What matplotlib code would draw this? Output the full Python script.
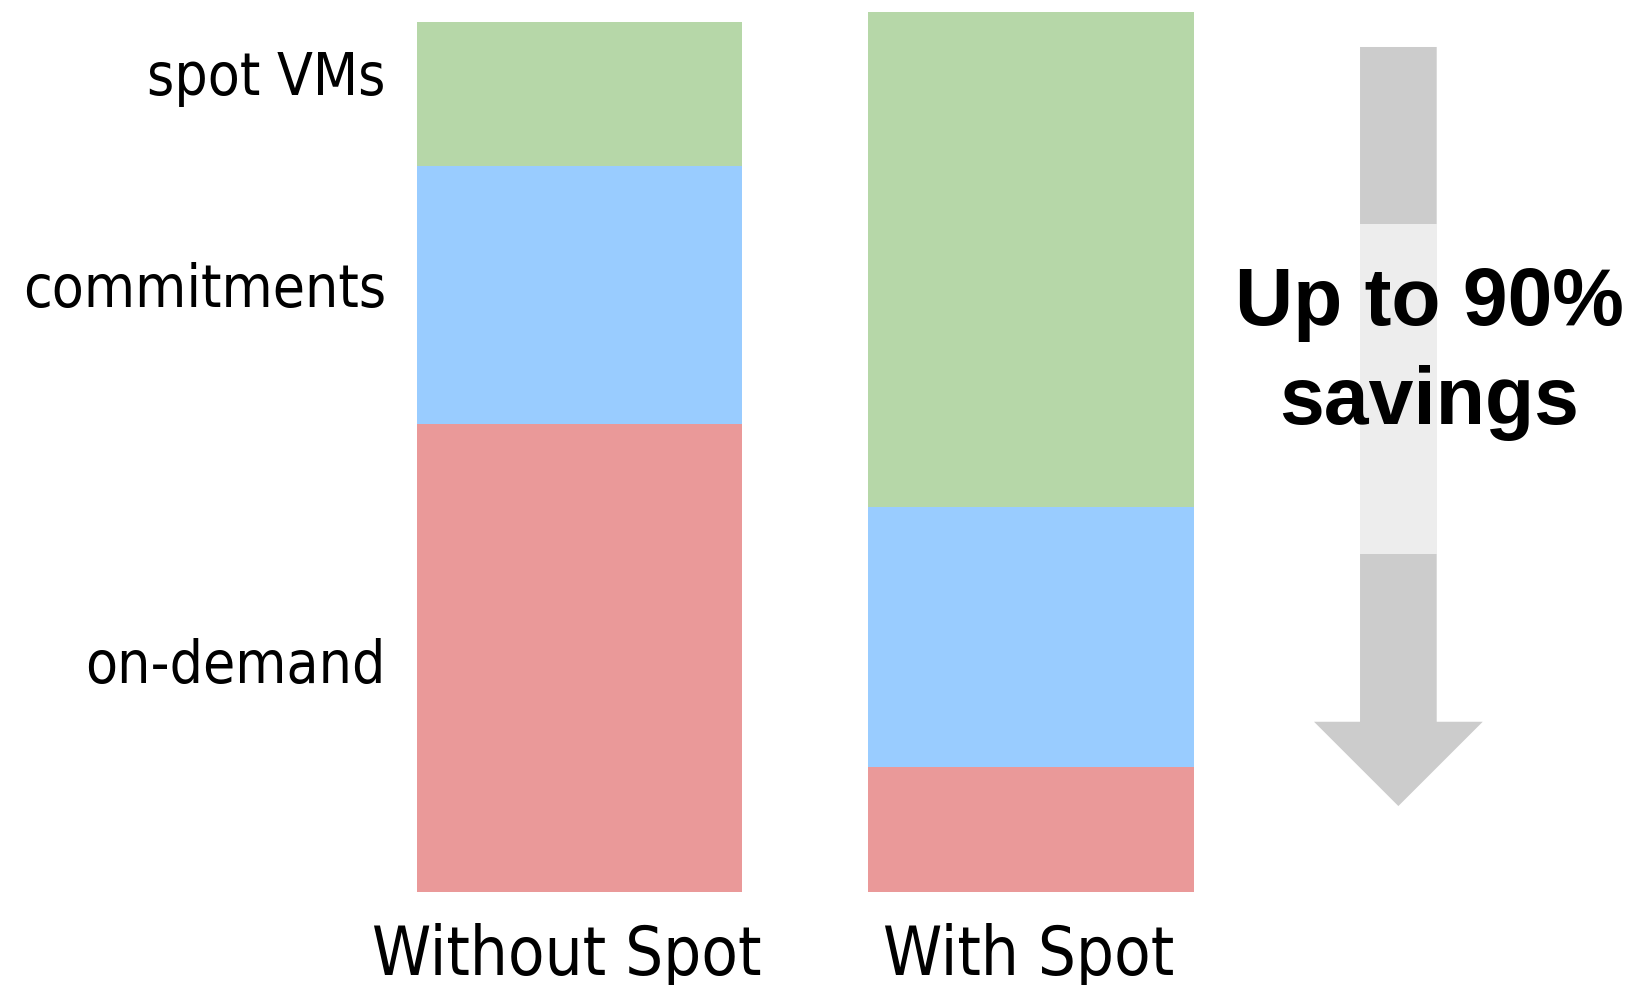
import matplotlib.pyplot as plt
from matplotlib.patches import FancyArrow, Rectangle

# cost split per scenario (relative units, "Without Spot" = 100)
scenarios = ['Without Spot', 'With Spot']
segments = ['on-demand', 'commitments', 'spot VMs']
on_demand = [53.8, 14.4]
commitments = [29.6, 29.8]
spot_vms = [16.6, 56.9]
seg_colors = ['#ea9999', '#99ccff', '#b6d7a8']
label_y = [24.0, 67.2, 91.6]   # baseline of the segment labels

fig = plt.figure(figsize=(16.36, 9.85), dpi=100)
ax = fig.add_axes([0.2384, 0.0944, 0.6679, 0.9056])

x = [0, 1]
bottom = [0, 0]
for vals, col in zip([on_demand, commitments, spot_vms], seg_colors):
    ax.bar(x, vals, width=0.72, bottom=bottom, color=col, linewidth=0)
    bottom = [b + v for b, v in zip(bottom, vals)]

ax.set_xlim(-0.419, 2.0)
ax.set_ylim(0, 102.53)
ax.axis('off')

lab_font = dict(family='DejaVu Sans', stretch='condensed', color='black')
for name, y in zip(segments, label_y):
    ax.text(-0.428, y, name, ha='right', va='baseline', fontsize=42, **lab_font)
for xi, name, dx in zip(x, scenarios, [-0.028, -0.006]):
    ax.text(xi + dx, -9.54, name, ha='center', va='baseline', fontsize=48, **lab_font)

# savings arrow
ax_x = 1.8133
shaft_w = 0.1698
ax.add_patch(FancyArrow(ax_x, 97.13, 0, -87.25, width=shaft_w, head_width=0.3735,
                        head_length=9.69, length_includes_head=True,
                        color='#cccccc', linewidth=0))
ax.add_patch(Rectangle((ax_x - shaft_w / 2, 38.85), shaft_w, 37.9,
                       color='#ededed', linewidth=0))

bold = dict(family='Liberation Sans', fontweight='bold', fontsize=58,
            ha='center', va='baseline', color='black')
ax.text(1.881, 65.2, 'Up to 90%', **bold)
ax.text(1.881, 53.8, 'savings', **bold)

fig.savefig('out.png', dpi=100)
